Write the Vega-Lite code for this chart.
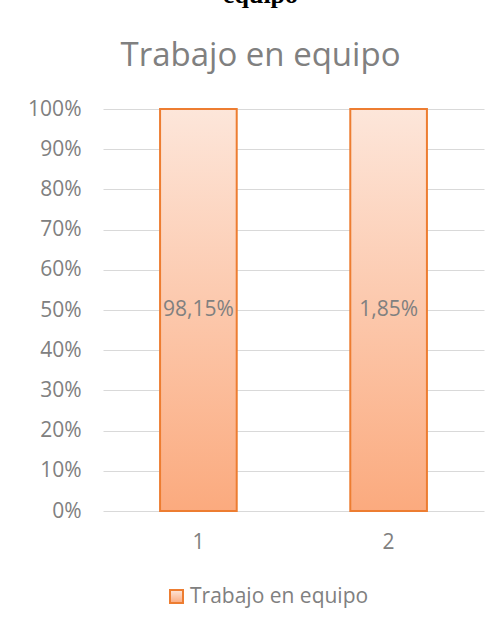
{
  "$schema": "https://vega.github.io/schema/vega-lite/v6.json",
  "width": 381,
  "height": 402,
  "autosize": "none",
  "padding": {"left": 103, "top": 109, "right": 20, "bottom": 116},
  "background": "white",
  "config": {
    "view": {"stroke": null},
    "font": "Open Sans",
    "locale": {"number": {"decimal": ",", "thousands": ".", "grouping": [3], "currency": ["", " €"]}}
  },
  "title": {
    "text": "equipo",
    "subtitle": "Trabajo en equipo",
    "font": "Liberation Serif",
    "fontSize": 26,
    "fontWeight": "bold",
    "color": "#000000",
    "subtitleFont": "Open Sans",
    "subtitleFontSize": 33,
    "subtitleColor": "#808080",
    "subtitlePadding": 32,
    "anchor": "middle",
    "dx": -33,
    "offset": 25
  },
  "data": {
    "values": [
      {"categoria": "1", "valor": 0.9815, "serie": "Trabajo en equipo"},
      {"categoria": "2", "valor": 0.0185, "serie": "Trabajo en equipo"}
    ]
  },
  "encoding": {
    "x": {
      "field": "categoria",
      "type": "nominal",
      "scale": {"paddingInner": 0.597, "paddingOuter": 0.3},
      "axis": {"title": null, "labelAngle": 0, "domain": false, "ticks": false, "labelPadding": 20, "labelFontSize": 21, "labelColor": "#808080", "labelFont": "Open Sans"}
    }
  },
  "layer": [
    {
      "mark": {
        "type": "bar",
        "strokeWidth": 2,
        "fill": {
          "gradient": "linear",
          "x1": 0, "y1": 0, "x2": 0, "y2": 1,
          "stops": [
            {"offset": 0, "color": "#FDE6DA"},
            {"offset": 1, "color": "#FBAA7E"}
          ]
        }
      },
      "encoding": {
        "y": {
          "field": "valor",
          "type": "quantitative",
          "stack": "normalize",
          "scale": {"domain": [0, 1]},
          "axis": {"title": null, "format": ".0%", "values": [0, 0.1, 0.2, 0.3, 0.4, 0.5, 0.6, 0.7, 0.8, 0.9, 1], "domain": false, "ticks": false, "labelPadding": 22, "labelFontSize": 21, "labelColor": "#808080", "gridColor": "#D9D9D9", "gridWidth": 1}
        },
        "stroke": {
          "field": "serie",
          "type": "nominal",
          "scale": {"range": ["#ED7D31"]},
          "legend": {
            "title": null,
            "orient": "none",
            "legendX": 63,
            "legendY": 477,
            "symbolType": "square",
            "symbolSize": 169,
            "symbolStrokeWidth": 2,
            "symbolFillColor": "#FCC4A6",
            "labelFontSize": 21,
            "labelColor": "#808080",
            "labelFont": "Open Sans",
            "labelOffset": 3,
            "labelLimit": 400
          }
        }
      }
    },
    {
      "mark": {"type": "text", "fontSize": 21, "color": "#808080", "font": "Open Sans"},
      "encoding": {
        "y": {"datum": 0.5, "type": "quantitative"},
        "text": {"field": "valor", "type": "quantitative", "format": ".2%"}
      }
    }
  ]
}
